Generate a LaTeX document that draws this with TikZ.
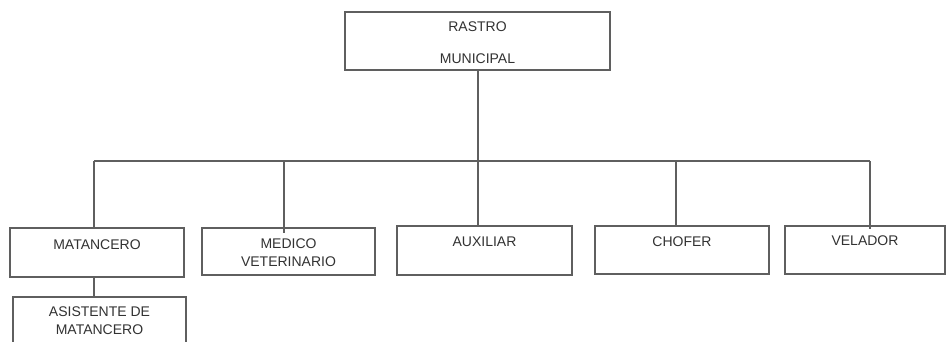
\documentclass[tikz,border=0pt]{standalone}
\usepackage{fontspec}
\setmainfont{Liberation Sans}
\begin{document}
\begin{tikzpicture}[x=1pt,y=-1pt,
  box/.style={draw=linegray, line width=1.3pt, rectangle, inner sep=0pt, fill=white},
  lbl/.style={text=textgray, font=\fontsize{14}{16}\selectfont, inner sep=0pt, align=center},
  link/.style={draw=linegray, line width=1.3pt}]
\definecolor{linegray}{RGB}{95,95,95}
\definecolor{textgray}{RGB}{50,50,50}
\useasboundingbox[fill=white] (0,0) rectangle (948,341);
\clip (0,0) rectangle (948,341);

% top box
\node[box, minimum width=265pt, minimum height=58pt] (rastro) at (477.5,41) {};
\node[lbl] (rastroA) at (477.5,27) {RASTRO};
\node[lbl] (rastroB) at (477.5,59) {MUNICIPAL};

% second level boxes
\node[box, minimum width=174pt, minimum height=49pt] (mat) at (97,252.5) {};
\node[lbl] (matT) at (97,245) {MATANCERO};
\node[box, minimum width=173pt, minimum height=47pt] (med) at (288.5,251.5) {};
\node[lbl] (medT) at (288.5,252.5) {MEDICO\\[2pt]VETERINARIO};
\node[box, minimum width=175pt, minimum height=49pt] (aux) at (484.5,250.5) {};
\node[lbl] (auxT) at (484.5,242) {AUXILIAR};
\node[box, minimum width=174pt, minimum height=48pt] (cho) at (682,250) {};
\node[lbl] (choT) at (682,242) {CHOFER};
\node[box, minimum width=160pt, minimum height=48pt] (vel) at (865,250) {};
\node[lbl] (velT) at (865,241) {VELADOR};

% third level
\node[box, minimum width=173pt, minimum height=52pt] (asi) at (99.5,323) {};
\node[lbl] (asiT) at (99.5,321) {ASISTENTE DE\\[2pt]MATANCERO};

% bus
\coordinate (b1) at (94,161);
\coordinate (b2) at (284,161);
\coordinate (b3) at (478,161);
\coordinate (b4) at (676,161);
\coordinate (b5) at (870,161);

\draw[link] (rastro.south -| b3) -- (b3);
\draw[link] (b1) -- (b5);
\draw[link] (b1) -- (b1 |- mat.north);
\draw[link] (b2) -- ([yshift=-6pt]b2 |- med.north);
\draw[link] (b3) -- (b3 |- aux.north);
\draw[link] (b4) -- (b4 |- cho.north);
\draw[link] (b5) -- ([yshift=-4pt]b5 |- vel.north);
\draw[link] (mat.south -| b1) -- (asi.north -| b1);
\end{tikzpicture}
\end{document}
